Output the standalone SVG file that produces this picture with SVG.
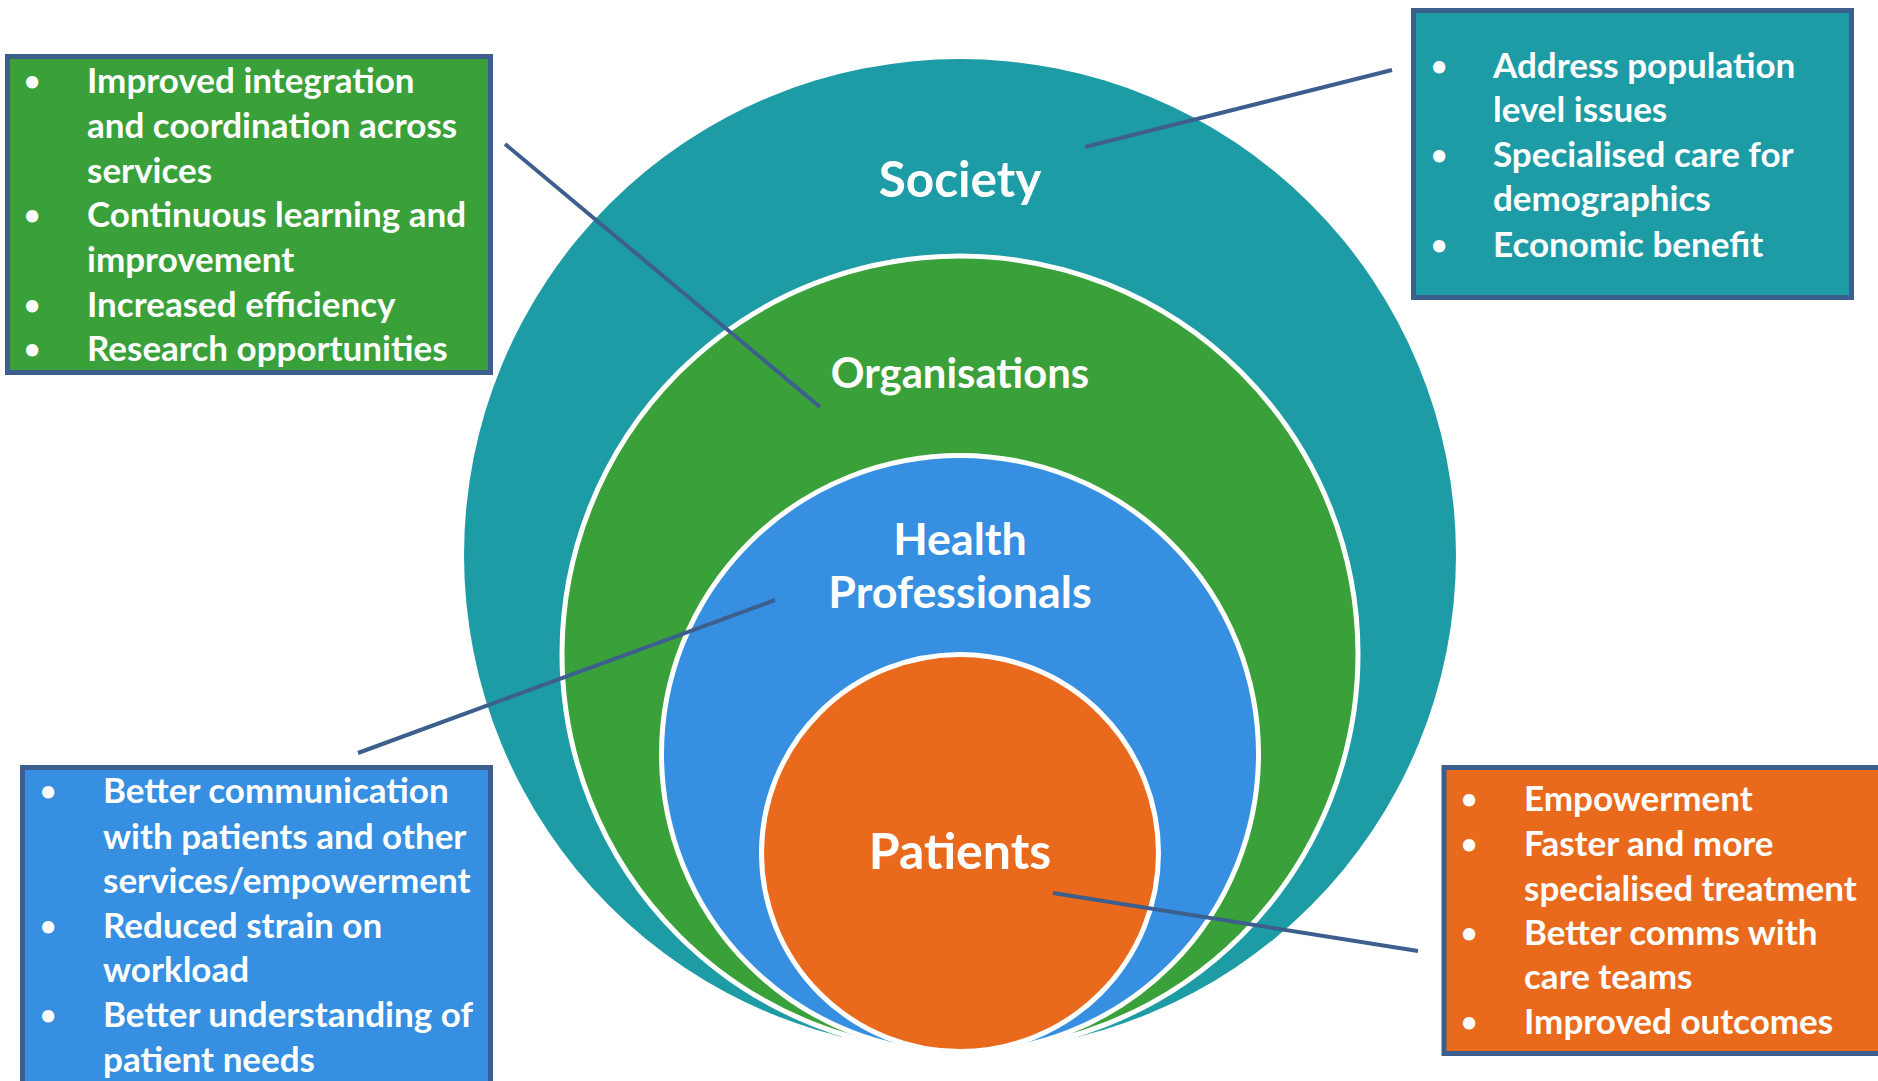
<svg xmlns="http://www.w3.org/2000/svg" width="1878" height="1081" viewBox="0 0 1878 1081">
  <style>
    .box { stroke: #3D5F8E; stroke-width: 5; }
    .ring { stroke: #FFFFFF; stroke-width: 5; }
    .t { font-family: Lato, "Open Sans", "Liberation Sans", sans-serif; font-weight: bold; fill: #FFFFFF; }
    .bt { font-size: 35px; }
    .bul { font-size: 28px; }
    .conn { stroke: #3D5F8E; stroke-width: 4; fill: none; }
  </style>
  <rect width="1878" height="1081" fill="#FFFFFF"/>

  <g id="society">
    <circle cx="960" cy="555" r="496" fill="#1E9CA6"/>
    <text class="t" x="960" y="197" font-size="49.5" text-anchor="middle">Society</text>
  </g>
  <g id="organisations">
    <circle class="ring" cx="960" cy="654" r="398" fill="#3AA03A"/>
    <text class="t" x="960" y="388" font-size="41.8" text-anchor="middle">Organisations</text>
  </g>
  <g id="health-professionals">
    <circle class="ring" cx="960" cy="754" r="298.5" fill="#368FE0"/>
    <text class="t" x="960" y="555" font-size="44.8" text-anchor="middle">Health</text>
    <text class="t" x="960" y="608" font-size="44.8" text-anchor="middle">Professionals</text>
  </g>
  <g id="patients">
    <circle class="ring" cx="960" cy="853" r="198.5" fill="#E96A1C"/>
    <text class="t" x="960" y="869" font-size="50" text-anchor="middle">Patients</text>
  </g>

  <g id="connectors">
    <line class="conn" x1="505" y1="144" x2="820" y2="407"/>
    <line class="conn" x1="1085" y1="147" x2="1392" y2="70"/>
    <line class="conn" x1="775" y1="600" x2="358" y2="753"/>
    <line class="conn" x1="1053" y1="893" x2="1418" y2="951"/>
  </g>

  <g id="box-organisations">
    <rect class="box" x="7.5" y="56.5" width="483" height="316" fill="#3AA03A"/>
    <g class="t bul">
      <text x="32" y="91" text-anchor="middle">•</text>
      <text x="32" y="225" text-anchor="middle">•</text>
      <text x="32" y="315" text-anchor="middle">•</text>
      <text x="32" y="359" text-anchor="middle">•</text>
    </g>
    <g class="t bt">
      <text x="87" y="93">Improved integration</text>
      <text x="87" y="138">and coordination across</text>
      <text x="87" y="183">services</text>
      <text x="87" y="227">Continuous learning and</text>
      <text x="87" y="272">improvement</text>
      <text x="87" y="317">Increased efficiency</text>
      <text x="87" y="361">Research opportunities</text>
    </g>
  </g>

  <g id="box-society">
    <rect class="box" x="1413.5" y="10.5" width="438" height="287" fill="#1E9CA6"/>
    <g class="t bul">
      <text x="1439" y="76" text-anchor="middle">•</text>
      <text x="1439" y="165" text-anchor="middle">•</text>
      <text x="1439" y="255" text-anchor="middle">•</text>
    </g>
    <g class="t bt">
      <text x="1493" y="78">Address population</text>
      <text x="1493" y="122">level issues</text>
      <text x="1493" y="167">Specialised care for</text>
      <text x="1493" y="211">demographics</text>
      <text x="1493" y="257">Economic benefit</text>
    </g>
  </g>

  <g id="box-health-professionals">
    <rect class="box" x="22.5" y="767.5" width="468" height="330" fill="#368FE0"/>
    <g class="t bul">
      <text x="48" y="801" text-anchor="middle">•</text>
      <text x="48" y="936" text-anchor="middle">•</text>
      <text x="48" y="1025" text-anchor="middle">•</text>
    </g>
    <g class="t bt">
      <text x="103" y="803">Better communication</text>
      <text x="103" y="849">with patients and other</text>
      <text x="103" y="893">services/empowerment</text>
      <text x="103" y="938">Reduced strain on</text>
      <text x="103" y="982">workload</text>
      <text x="103" y="1027">Better understanding of</text>
      <text x="103" y="1072">patient needs</text>
    </g>
  </g>

  <g id="box-patients">
    <rect class="box" x="1444" y="767.5" width="450" height="286" fill="#E96A1C"/>
    <g class="t bul">
      <text x="1469" y="809" text-anchor="middle">•</text>
      <text x="1469" y="854" text-anchor="middle">•</text>
      <text x="1469" y="943" text-anchor="middle">•</text>
      <text x="1469" y="1032" text-anchor="middle">•</text>
    </g>
    <g class="t bt">
      <text x="1524" y="811">Empowerment</text>
      <text x="1524" y="856">Faster and more</text>
      <text x="1524" y="901">specialised treatment</text>
      <text x="1524" y="945">Better comms with</text>
      <text x="1524" y="989">care teams</text>
      <text x="1524" y="1034">Improved outcomes</text>
    </g>
  </g>
</svg>
